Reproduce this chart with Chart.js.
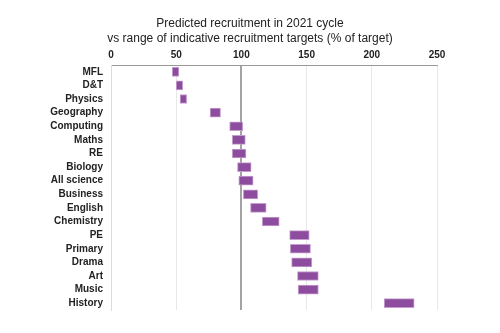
<!DOCTYPE html>
<html lang="en">
<head>
    <meta charset="UTF-8">
    <title>Predicted recruitment vs targets</title>
    <script src="https://cdn.jsdelivr.net/npm/chart.js@4.4.0/dist/chart.umd.min.js"></script>
    <style>
        html, body { margin: 0; padding: 0; background: #fff; }
        #wrap { width: 500px; height: 333px; }
    </style>
</head>
<body>
    <div id="wrap"><canvas id="recruitChart" width="500" height="333"></canvas></div>
    <script>
        // subjects, top to bottom
        const subjects = ['MFL', 'D&T', 'Physics', 'Geography', 'Computing', 'Maths', 'RE', 'Biology',
            'All science', 'Business', 'English', 'Chemistry', 'PE', 'Primary', 'Drama', 'Art', 'Music', 'History'];
        // range of indicative targets, low and high end (% of target)
        const rangeLow = [47, 50, 53, 76, 91, 93, 93, 97, 98, 101.5, 107, 116, 137, 137.5, 138.5, 143, 143.5, 209.5];
        const rangeHigh = [52, 55, 58, 84, 101, 103, 103.5, 107.5, 109, 112.5, 119, 129, 152, 153, 154, 159, 159, 232.5];
        const xTicks = [0, 50, 100, 150, 200, 250];
        const titleLines = ['Predicted recruitment in 2021 cycle', 'vs range of indicative recruitment targets (% of target)'];

        const ranges = subjects.map((s, i) => [rangeLow[i], rangeHigh[i]]);

        // built-in title centres over the padded box, the original is centred on the page
        const pageTitle = {
            id: 'pageTitle',
            afterDraw(chart) {
                const c = chart.ctx;
                c.save();
                c.fillStyle = '#222';
                c.font = '12px "Liberation Sans", Arial, sans-serif';
                c.textAlign = 'center';
                c.textBaseline = 'middle';
                titleLines.forEach((t, i) => c.fillText(t, chart.width / 2, 23.5 + i * 15.5));
                c.restore();
            }
        };

        const ctx = document.getElementById('recruitChart').getContext('2d');
        new Chart(ctx, {
            type: 'bar',
            data: {
                labels: subjects,
                datasets: [{
                    data: ranges,
                    backgroundColor: '#8e4c9f',
                    borderColor: '#c49fce',
                    borderWidth: 1,
                    borderSkipped: false,
                    barThickness: 9
                }]
            },
            plugins: [pageTitle],
            options: {
                indexAxis: 'y',
                responsive: false,
                animation: false,
                layout: { padding: { left: 0, right: 63, top: 46, bottom: 23 } },
                plugins: {
                    legend: { display: false },
                    tooltip: { enabled: false },
                    title: { display: false }
                },
                scales: {
                    x: {
                        position: 'top',
                        min: xTicks[0],
                        max: xTicks[xTicks.length - 1],
                        afterBuildTicks: (scale) => { scale.ticks = xTicks.map(v => ({ value: v })); },
                        afterFit: (scale) => { scale.height = 19; },
                        ticks: {
                            color: '#222',
                            padding: 4,
                            maxRotation: 0,
                            font: { family: 'Liberation Sans, Arial', size: 10, weight: 'bold' }
                        },
                        grid: {
                            drawTicks: false,
                            color: (c) => c.tick && c.tick.value === 100 ? '#a3a3a3' : '#e8e8e8',
                            lineWidth: (c) => c.tick && c.tick.value === 100 ? 2 : 1
                        },
                        border: { display: true, color: '#999', width: 1 }
                    },
                    y: {
                        afterFit: (scale) => { scale.width = 111; },
                        ticks: {
                            color: '#222',
                            padding: 8,
                            autoSkip: false,
                            font: { family: 'Liberation Sans, Arial', size: 10, weight: 'bold' }
                        },
                        grid: { display: false, drawTicks: false },
                        border: { display: true, color: '#dcdcdc', width: 1 }
                    }
                }
            }
        });
    </script>
</body>
</html>
